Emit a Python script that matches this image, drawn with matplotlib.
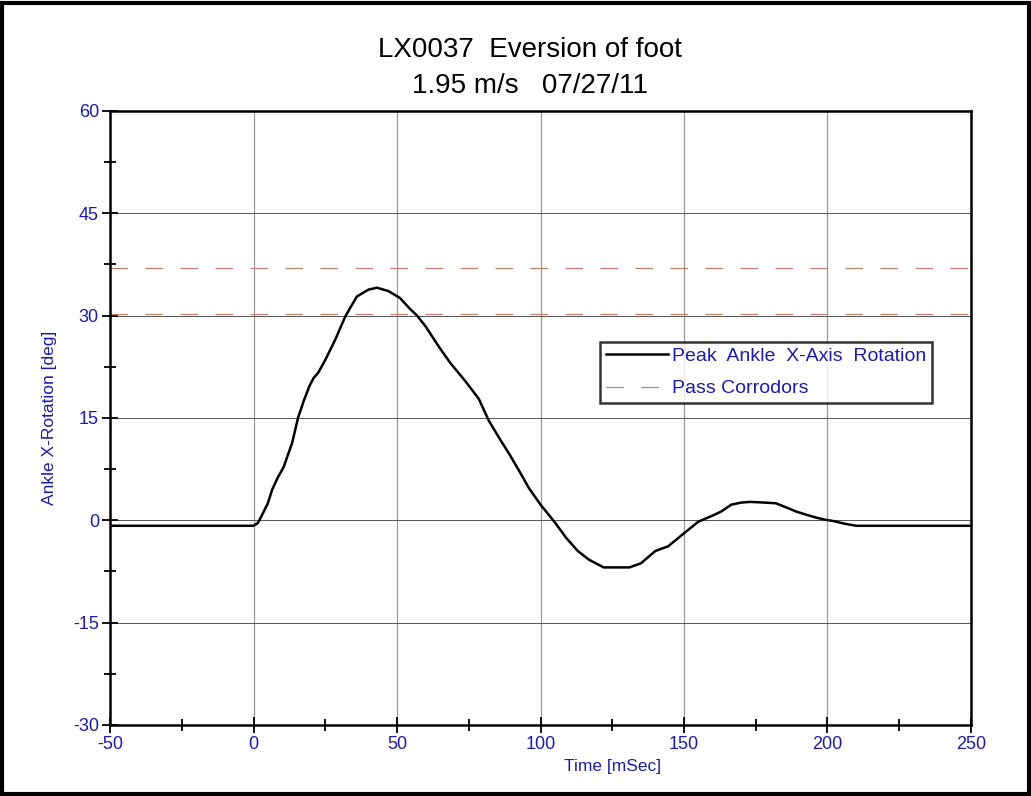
import matplotlib
matplotlib.use("Agg")
import matplotlib.pyplot as plt
from matplotlib.patches import Rectangle
from matplotlib.ticker import MultipleLocator

# datos
tiempo = [-50, 0, 1.5, 3, 5, 6.5, 8.5, 10.5, 12, 13.5, 15.5, 17.5, 19.5, 21, 22.5, 25,
          28.5, 32, 36, 40, 43, 47, 51, 54.5, 57, 60, 64.5, 68.5, 74, 78.5, 82, 86,
          89, 92.5, 96, 100, 105, 109, 113, 117, 122, 131, 135, 140, 144.5, 150, 155,
          160, 163, 166.5, 170, 173, 178, 182, 185, 189, 192, 196, 199, 202, 206, 210, 250]
rotacion = [-0.8, -0.8, -0.4, 0.8, 2.5, 4.5, 6.3, 7.8, 9.6, 11.4, 15.0, 17.5, 19.7, 20.9,
            21.6, 23.5, 26.5, 29.9, 32.8, 33.8, 34.1, 33.6, 32.6, 31.0, 30.0, 28.4, 25.5,
            23.1, 20.3, 17.8, 14.6, 11.8, 9.8, 7.3, 4.7, 2.3, -0.3, -2.6, -4.5, -5.8, -6.9,
            -6.9, -6.3, -4.5, -3.8, -1.9, -0.2, 0.7, 1.3, 2.3, 2.6, 2.7, 2.6, 2.5, 2.0, 1.3,
            0.9, 0.4, 0.1, -0.1, -0.5, -0.8, -0.8]
corredores = [37.0, 30.3]   # limites del pasillo

azul = "#1c1ca8"
plt.rcParams["font.family"] = ["Liberation Sans", "DejaVu Sans"]
plt.rcParams["axes.unicode_minus"] = False

fig = plt.figure(figsize=(10.31, 7.96), dpi=100)
ax = fig.add_axes([0.1067, 0.0892, 0.8351, 0.7714])

ax.plot(tiempo, rotacion, color="black", lw=1.8, label="Peak  Ankle  X-Axis  Rotation")
for i, c in enumerate(corredores):
    ax.axhline(c, color="#bf8070", lw=0.9, dashes=(14, 14),
               label="Pass Corrodors" if i == 0 else None)

ax.set_xlim(-50, 250)
ax.set_ylim(-30, 60)
ax.xaxis.set_major_locator(MultipleLocator(50))
ax.xaxis.set_minor_locator(MultipleLocator(25))
ax.yaxis.set_major_locator(MultipleLocator(15))
ax.yaxis.set_minor_locator(MultipleLocator(7.5))
ax.grid(axis="x", which="major", color="#9a9a9a", lw=0.9)
ax.grid(axis="y", which="major", color="#555555", lw=0.7)
ax.tick_params(which="major", direction="inout", length=12, width=1.3,
               labelsize=13, labelcolor=azul, pad=2)
ax.tick_params(which="minor", direction="inout", length=9, width=1.3)
for s in ax.spines.values():
    s.set_linewidth(1.8)

ax.set_ylabel("Ankle X-Rotation [deg]", color=azul, fontsize=12.5)
ax.yaxis.set_label_coords(-0.062, 0.5)
fig.text(0.594, 0.037, "Time [mSec]", color=azul, fontsize=12.5, ha="center", va="center")

fig.text(0.514, 0.937, "LX0037  Eversion of foot", fontsize=20, ha="center", va="center")
fig.text(0.514, 0.892, "1.95 m/s   07/27/11", fontsize=20, ha="center", va="center")

leg = ax.legend(loc="upper left", bbox_to_anchor=(0.569, 0.624), fontsize=14,
                frameon=True, fancybox=False, handlelength=3.2, handletextpad=0.2,
                borderpad=0.3, labelspacing=0.75, borderaxespad=0)
leg.get_frame().set_edgecolor("black")
leg.get_frame().set_linewidth(1.8)
for txt in leg.get_texts():
    txt.set_color(azul)

# marco exterior
fig.patches.append(Rectangle((0.002, 0.002), 0.996, 0.994, transform=fig.transFigure,
                             fill=False, edgecolor="black", lw=3))

fig.savefig("out.png", dpi=100)
